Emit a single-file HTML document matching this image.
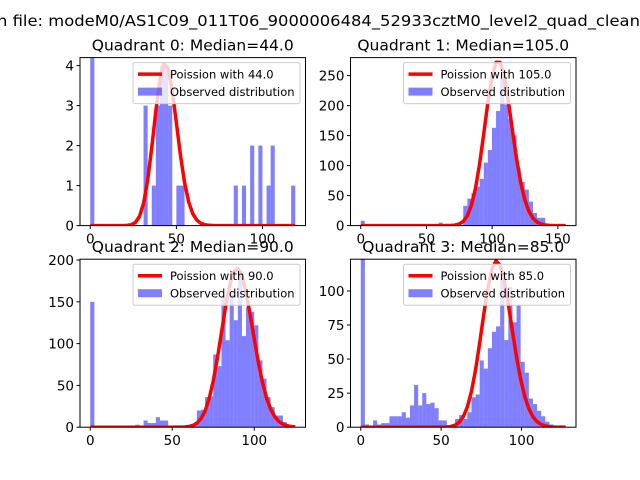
<!DOCTYPE html>
<html><head><meta charset="utf-8"><style>
body{margin:0;background:#fff}
svg{display:block;font-family:"DejaVu Sans","Liberation Sans",sans-serif}
</style></head><body>
<svg id="fig" width="640" height="480" viewBox="0 0 640 480">
<rect width="640" height="480" fill="#fff"/>
<text x="-3" y="26" font-size="15.5" textLength="643" lengthAdjust="spacingAndGlyphs">n file: modeM0/AS1C09_011T06_9000006484_52933cztM0_level2_quad_clean</text>
</svg>
<script>
const titles = ["Quadrant 0: Median=44.0","Quadrant 1: Median=105.0","Quadrant 2: Median=90.0","Quadrant 3: Median=85.0"];
const lambdas = [44, 105, 90, 85];
const peaks = [4.05, 275, 190, 122];
const dataMax = [119, 156, 125, 127.5];
const yMax = [4.2, 280, 201, 123.3];
const xTicks = [[0,50,100],[0,50,100,150],[0,50,100],[0,50,100]];
const yTicks = [[0,1,2,3,4],[0,50,100,150,200,250],[0,50,100,150,200],[0,25,50,75,100]];
const counts0 = [10,0,0,0,0,0,0,0,0,0,0,0,0,3,0,1,3,4,4,3,0,1,1,0,0,0,0,0,0,0,0,0,0,0,0,1,0,1,0,2,0,2,0,1,2,0,0,0,0,1];
const counts1 = [8,0,0,0,0,0,0,0,0,0,0,0,0,0,0,0,0,0,0,5,0,0,3,0,0,33,45,54,65,78,105,126,163,191,250,202,178,150,96,73,60,40,21,13,13,0,0,0,0,0];
const counts2 = [150,0,0,0,0,0,0,0,0,0,0,3,0,8,5,5,12,8,8,0,0,0,0,0,0,3,20,21,36,37,87,73,156,104,160,128,188,109,144,138,122,80,58,36,24,14,14,6,0,0];
const counts3 = [150,2,1,5,2,3,3,8,8,8,11,7,16,31,16,25,17,18,14,5,5,1,1,6,9,6,11,22,24,49,43,58,70,74,110,64,103,77,90,48,40,21,17,12,8,4,2,1,0,0];
const allCounts = [counts0, counts1, counts2, counts3];

const NS = "http://www.w3.org/2000/svg";
const fig = document.getElementById('fig');
const boxes = [[80,57.6],[350.5,57.6],[80,259.2],[350.5,259.2]];
const AW = 225.5, AH = 168;

function lgamma(x){let s=0;while(x<7){s-=Math.log(x);x+=1;}
 return s+(x-0.5)*Math.log(x)-x+0.5*Math.log(2*Math.PI)+1/(12*x)-1/(360*x*x*x);}
function lpmf(k,l){return k*Math.log(l)-l-lgamma(k+1);}
function mk(tag,attrs,parent){const e=document.createElementNS(NS,tag);for(const k in attrs)e.setAttribute(k,attrs[k]);(parent||fig).appendChild(e);return e;}

for(let p=0;p<4;p++){
  const [x0,y0]=boxes[p];
  const dmax=dataMax[p], span=dmax*1.1, xmin=-dmax*0.05;
  const sx=v=>x0+(v-xmin)/span*AW;
  const sy=v=>y0+AH-(v/yMax[p])*AH;
  const g=mk('g',{});
  
  
  const cid='clip'+p;
  const cp=mk('clipPath',{id:cid},g);mk('rect',{x:x0,y:y0,width:AW,height:AH},cp);
  const plot=mk('g',{'clip-path':'url(#'+cid+')'},g);
  const counts=allCounts[p], bw=dmax/counts.length;
  counts.forEach((c,i)=>{ if(c<=0) return;
    const r=mk('rect',{x:sx(i*bw),y:sy(c),width:sx((i+1)*bw)-sx(i*bw),height:sy(0)-sy(c),fill:'#0000ff','fill-opacity':0.5},plot);
    
    
  });
  const lam=lambdas[p], ref=lpmf(lam,lam);
  let pts=[];
  for(let i=0;i<=counts.length;i++){const k=i*bw;pts.push(sx(k).toFixed(2)+','+sy(peaks[p]*Math.exp(lpmf(k,lam)-ref)).toFixed(2));}
  const line=mk('polyline',{points:pts.join(' '),fill:'none',stroke:'#ff0000','stroke-width':3.5,'stroke-linejoin':'round'},plot);
  
  
  const frame=mk('rect',{x:x0,y:y0,width:AW,height:AH,fill:'none',stroke:'#000','stroke-width':1},g);
  
  
  xTicks[p].forEach(t=>{const x=sx(t);
    mk('line',{x1:x,x2:x,y1:y0+AH,y2:y0+AH+3.5,stroke:'#000'},g);
    const tx=mk('text',{x:x,y:y0+AH+18,'font-size':13.5,'text-anchor':'middle'},g);tx.textContent=t;
    
    
  });
  yTicks[p].forEach(t=>{const y=sy(t);
    mk('line',{x1:x0-3.5,x2:x0,y1:y,y2:y,stroke:'#000'},g);
    const tx=mk('text',{x:x0-6,y:y+5,'font-size':13.5,'text-anchor':'end'},g);tx.textContent=t;
    
    
  });
  const tt=mk('text',{x:x0+AW/2,y:y0-7,'font-size':15.5,'text-anchor':'middle'},g);tt.textContent=titles[p];
  
  
  const lg=mk('g',{},g);
  
  
  const lx=x0+AW-172.5, ly=y0+5;
  mk('rect',{x:lx,y:ly,width:167,height:41,rx:2,fill:'#fff','fill-opacity':0.8,stroke:'#ccc','stroke-width':1},lg);
  mk('line',{x1:lx+5,x2:lx+29,y1:ly+11.5,y2:ly+11.5,stroke:'#ff0000','stroke-width':3.5},lg);
  const t1=mk('text',{x:lx+37,y:ly+16,'font-size':11.5},lg);t1.textContent='Poission with '+lam.toFixed(1);
  
  
  mk('rect',{x:lx+5,y:ly+25,width:24,height:8,fill:'#0000ff','fill-opacity':0.5},lg);
  const t2=mk('text',{x:lx+37,y:ly+33.5,'font-size':11.5},lg);t2.textContent='Observed distribution';
  
  
}
</script>
</body></html>
